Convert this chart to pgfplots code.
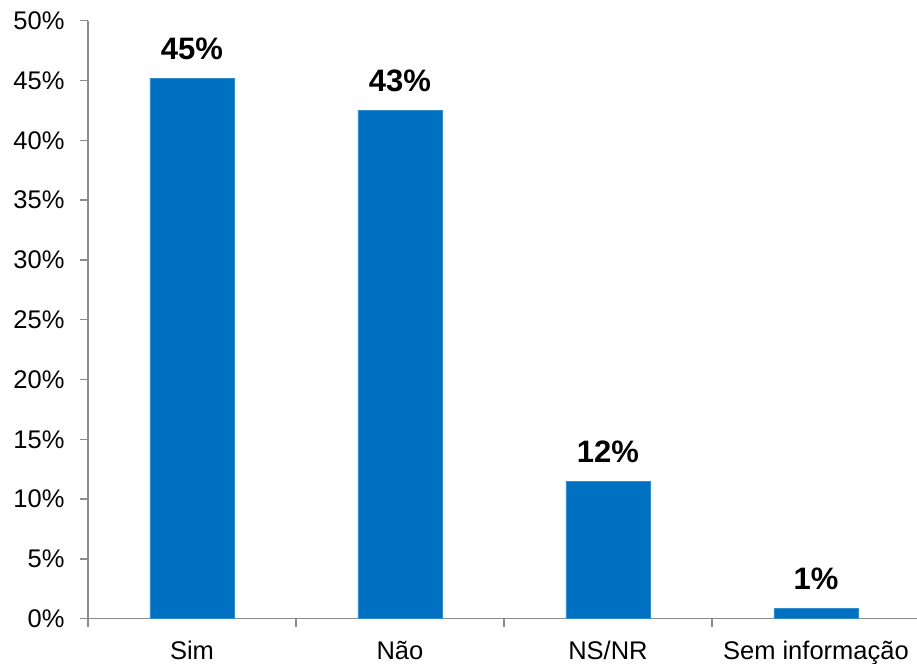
\documentclass[border=0pt]{standalone}
\usepackage{fontspec}
\setmainfont{Liberation Sans}
\usepackage{pgfplots}
\pgfplotsset{compat=1.18}
\usetikzlibrary{calc}
\definecolor{barblue}{HTML}{0070C0}
\definecolor{axgray}{HTML}{8C8C8C}
\begin{document}
\begin{tikzpicture}
\begin{axis}[
  name=ax,
  scale only axis,
  width=829bp, height=598bp,
  xmin=-0.5, xmax=3.486,
  ymin=0, ymax=50,
  axis x line=bottom, axis y line=left,
  axis line style={axgray, line width=1.5bp, -},
  ytick={0,5,...,50},
  yticklabel={\pgfmathparse{int(round(\tick))}\pgfmathresult\%},
  yticklabel style={font=\fontsize{25.5bp}{29bp}\selectfont, xshift=-12bp},
  xtick={-0.5,0.5,1.5,2.5},
  xticklabels={},
  extra x ticks={0,1,2,3},
  extra x tick labels={Sim,Não,NS/NR,Sem informação},
  extra x tick style={major tick length=0pt, tick style={draw=none}},
  xticklabel style={font=\fontsize{25.5bp}{29bp}\selectfont, yshift=-19bp},
  tick style={axgray, line width=1.5bp},
  major tick length=8bp,
  tick align=outside,
  xtick pos=bottom, ytick pos=left,
  clip=false,
]
\addplot[ybar, bar width=84bp, fill=barblue, draw=barblue!80!white,
  point meta=explicit symbolic,
  nodes near coords,
  nodes near coords style={font=\fontsize{31bp}{35bp}\selectfont\bfseries, text=black, yshift=15bp}]
  coordinates {(0,45.2) [45\%] (1,42.5) [43\%] (2,11.5) [12\%] (3,0.87) [1\%]};
\end{axis}
\pgfresetboundingbox
\path[use as bounding box] ($(ax.south west)+(-88bp,-45.3bp)$) rectangle ($(ax.north east)+(0bp,20.7bp)$);
\end{tikzpicture}
\end{document}
